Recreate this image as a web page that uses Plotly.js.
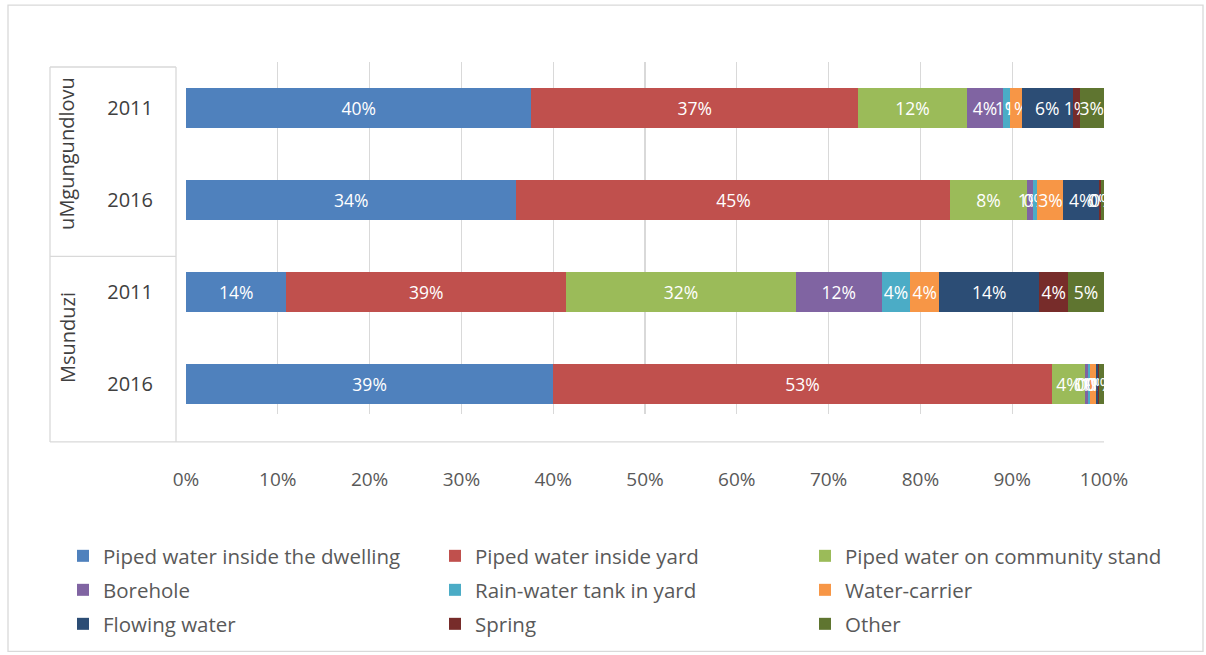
<!DOCTYPE html>
<html>
<head>
<meta charset="utf-8">
<script src="https://cdn.plot.ly/plotly-3.0.1.min.js"></script>
<style>html,body{margin:0;padding:0;background:#fff;}#chart{width:1206px;height:655px;}</style>
</head>
<body>
<div id="chart"></div>
<script>
// Categories (top to bottom)
const groups = ['uMgungundlovu', 'uMgungundlovu', 'Msunduzi', 'Msunduzi'];
const years = ['2011', '2016', '2011', '2016'];
const rowKeys = ['uMgungundlovu 2011', 'uMgungundlovu 2016', 'Msunduzi 2011', 'Msunduzi 2016'];

// Series values (percent, per row)
const pipedDwelling = [39.5, 34.2, 14, 39.2];
const pipedYard = [37.4, 44.9, 39, 53.2];
const communityStand = [12.4, 7.9, 32, 3.6];
const borehole = [4.2, 0.7, 12, 0.3];
const rainTank = [0.8, 0.4, 4, 0.2];
const waterCarrier = [1.3, 2.7, 4, 0.6];
const flowingWater = [5.8, 3.7, 14, 0.3];
const spring = [0.8, 0.2, 4, 0.1];
const other = [2.8, 0.3, 5, 0.5];

const seriesNames = ['Piped water inside the dwelling', 'Piped water inside yard', 'Piped water on community stand',
  'Borehole', 'Rain-water tank in yard', 'Water-carrier', 'Flowing water', 'Spring', 'Other'];
const seriesValues = [pipedDwelling, pipedYard, communityStand, borehole, rainTank, waterCarrier, flowingWater, spring, other];
const seriesColors = ['#4F81BD', '#C0504D', '#9BBB59', '#8064A2', '#4BACC6', '#F79646', '#2C4D75', '#772C2A', '#5F7530'];
const xTicks = [0, 10, 20, 30, 40, 50, 60, 70, 80, 90, 100];

const font = "'Open Sans', 'Noto Sans', sans-serif";
const legendId = i => i === 0 ? 'legend' : 'legend' + (i + 1);

const traces = seriesNames.map((name, i) => ({
  type: 'bar',
  orientation: 'h',
  name: name,
  y: rowKeys,
  x: seriesValues[i],
  text: seriesValues[i].map(v => Math.round(v) + '%'),
  textposition: 'inside',
  insidetextanchor: 'middle',
  textangle: 0,
  constraintext: 'none',
  textfont: {color: '#ffffff', size: 17.5, family: font},
  marker: {color: seriesColors[i], line: {width: 0}},
  legend: legendId(i),
  hoverinfo: 'name+x'
}));

// geometry helpers (pixel -> paper)
const L = 186, R = 102, T = 62, B = 240, W = 1206, H = 655;
const pw = W - L - R, ph = H - T - B;
const px = x => (x - L) / pw;
const py = y => (H - B - y) / ph;

const lineStyle = {color: '#d9d9d9', width: 1.3};
const shapes = [
  {type: 'rect', xref: 'paper', yref: 'paper', x0: px(8), x1: px(1203), y0: py(653), y1: py(5), line: lineStyle},
  {type: 'line', xref: 'paper', yref: 'paper', x0: px(50), x1: px(50), y0: py(67), y1: py(443), line: lineStyle},
  {type: 'line', xref: 'paper', yref: 'paper', x0: px(176), x1: px(176), y0: py(67), y1: py(443), line: lineStyle},
  {type: 'line', xref: 'paper', yref: 'paper', x0: px(50), x1: px(176), y0: py(67), y1: py(67), line: lineStyle},
  {type: 'line', xref: 'paper', yref: 'paper', x0: px(50), x1: px(176), y0: py(257), y1: py(257), line: lineStyle},
  {type: 'line', xref: 'paper', yref: 'paper', x0: px(50), x1: px(176), y0: py(443), y1: py(443), line: lineStyle},
  {type: 'line', xref: 'paper', yref: 'paper', x0: px(176), x1: 1, y0: py(443), y1: py(443), line: lineStyle}
];

const uniqueGroups = [...new Set(groups)];
const annotations = uniqueGroups.map(g => {
  const idx = groups.map((v, i) => v === g ? i : -1).filter(i => i >= 0);
  const mid = (idx[0] + idx[idx.length - 1]) / 2;
  return {
    text: g, xref: 'paper', yref: 'y', x: px(67), y: mid, textangle: -90,
    showarrow: false, xanchor: 'center', yanchor: 'middle',
    font: {family: font, size: 20, color: '#404040'}
  };
});

const layout = {
  width: W, height: H,
  margin: {l: L, r: R, t: T, b: B},
  paper_bgcolor: '#ffffff', plot_bgcolor: '#ffffff',
  barmode: 'stack', barnorm: 'percent', bargap: 0.56,
  showlegend: true,
  xaxis: {
    range: [0, 100], tickvals: xTicks, ticktext: xTicks.map(v => v + '%'),
    showgrid: true, gridcolor: '#d9d9d9', gridwidth: 1.3, zeroline: false,
    ticks: 'outside', ticklen: 48, tickcolor: 'rgba(0,0,0,0)',
    tickfont: {family: font, size: 19, color: '#595959'}, showline: false, fixedrange: true
  },
  yaxis: {
    type: 'category', categoryorder: 'array', categoryarray: rowKeys, range: [3.325, -0.498],
    tickvals: rowKeys, ticktext: years,
    ticks: 'outside', ticklen: 28, tickcolor: 'rgba(0,0,0,0)',
    tickfont: {family: font, size: 20, color: '#404040'}, showgrid: false, showline: false, fixedrange: true
  },
  shapes: shapes,
  annotations: annotations
};

// one small legend per entry, laid out in a 3-column grid like the original
const colX = [63, 435, 805];
const rowY = [556, 590, 624];
seriesNames.forEach((n, i) => {
  layout[legendId(i)] = {
    orientation: 'v', xref: 'paper', yref: 'paper', xanchor: 'left', yanchor: 'middle',
    x: px(colX[i % 3]), y: py(rowY[Math.floor(i / 3)]), itemwidth: 30,
    font: {family: font, size: 20.5, color: '#595959'}, bgcolor: 'rgba(0,0,0,0)'
  };
});

Plotly.newPlot('chart', traces, layout, {displayModeBar: false, staticPlot: true});
</script>
</body>
</html>
